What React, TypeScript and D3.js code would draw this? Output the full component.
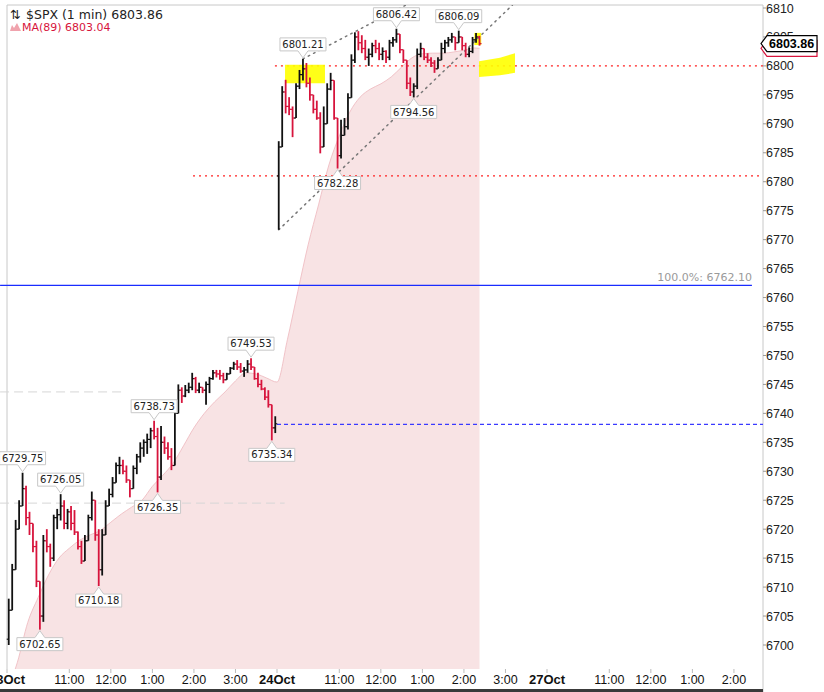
import * as d3 from 'd3';

// 5-minute OHLC bars (open = previous close)
const dayOpen = [6701, 6781];

const oct23Hi = [6708, 6714, 6721.6, 6725, 6729.75, 6727.5, 6723, 6721, 6718, 6711,
  6719, 6720, 6717.5, 6722.5, 6723.5, 6726.05, 6725, 6723.5, 6724, 6723.3,
  6719.6, 6718, 6719, 6722.5, 6726.5, 6725, 6720, 6720, 6725, 6727,
  6729, 6731.5, 6732.5, 6732, 6731, 6728.5, 6731, 6733, 6735, 6735.5,
  6736.5, 6737.5, 6738.73, 6737.5, 6737.8, 6736, 6735, 6734, 6741, 6745,
  6744.5, 6744.9, 6745.3, 6747, 6746.3, 6745.3, 6744.5, 6745.5, 6746.3, 6747.5,
  6747.5, 6747.5, 6747, 6747, 6748, 6748.9, 6749.2, 6748.7, 6748, 6749.2,
  6749.53, 6748, 6747, 6745.8, 6744.5, 6744, 6741.5, 6739.5];
const oct23Lo = [6700, 6706, 6713, 6720, 6724, 6720.7, 6719, 6716, 6710, 6702.65,
  6704, 6716, 6713.5, 6714.5, 6720, 6721.5, 6720, 6720, 6719.8, 6719,
  6716.5, 6714, 6714.5, 6718, 6721.5, 6718, 6710.18, 6712, 6719, 6724,
  6725.5, 6728, 6729.5, 6729.5, 6728, 6725.5, 6727, 6729.5, 6731.5, 6732.5,
  6733, 6734, 6735.5, 6726.35, 6728.5, 6733, 6732, 6730.2, 6731, 6740,
  6741.8, 6742.8, 6743.5, 6744, 6743.5, 6743.5, 6743.5, 6741.5, 6743.5, 6745.8,
  6746.2, 6745.8, 6745.2, 6745.8, 6747, 6747.5, 6747.5, 6747, 6746.3, 6747,
  6747.5, 6745.8, 6744.5, 6744, 6742.3, 6741, 6735.34, 6736.6];
const oct23Cl = [6706, 6713, 6720, 6724, 6727, 6722, 6721, 6717, 6711, 6705,
  6718, 6717, 6715, 6722, 6722.5, 6724, 6721, 6723, 6721, 6719.5,
  6717, 6714.5, 6718, 6722, 6725, 6719, 6713, 6719, 6724, 6726,
  6728, 6731, 6731, 6730, 6728.5, 6727, 6730.5, 6732.5, 6734, 6735,
  6735.5, 6737, 6736, 6729, 6735, 6734, 6732.5, 6731, 6740, 6744,
  6743, 6744, 6744.5, 6746, 6744, 6744.5, 6744, 6745, 6746, 6747,
  6746.8, 6746.5, 6745.8, 6746.8, 6747.8, 6748.5, 6748, 6747.3, 6747.5, 6748.5,
  6748, 6746, 6745, 6744.2, 6742.8, 6741.5, 6737.5, 6738.2];

const oct24Hi = [6787, 6796.5, 6797.6, 6794.6, 6793, 6797, 6799.3, 6801.21, 6800.5, 6798,
  6795, 6794, 6792, 6793, 6797, 6798.8, 6797.5, 6791, 6790.7, 6791,
  6795.3, 6802, 6805.8, 6806, 6805.3, 6804.5, 6803, 6804, 6804.5, 6804,
  6803.2, 6802.7, 6804.5, 6805, 6806.42, 6805, 6802.2, 6801, 6798, 6797,
  6803, 6804, 6802.7, 6802.2, 6801.5, 6801, 6801.5, 6804, 6804.5, 6805,
  6805.7, 6805, 6806.09, 6805, 6804, 6803.2, 6805, 6805.7, 6805.2];
const oct24Lo = [6771.7, 6787, 6791.8, 6791.5, 6787.7, 6791, 6796, 6797.5, 6796.3, 6794,
  6791.8, 6790.7, 6784.9, 6786, 6790, 6795.8, 6790.7, 6782.28, 6784, 6788.3,
  6789, 6794.5, 6800.5, 6802.7, 6802.2, 6801, 6800, 6801.5, 6802.2, 6801,
  6801, 6800.5, 6801, 6803.3, 6804, 6802.2, 6800.5, 6796, 6794.8, 6794.56,
  6796, 6801.5, 6801, 6800.5, 6799.8, 6798.8, 6799.8, 6801.5, 6802.2, 6803.3,
  6804, 6802.7, 6804, 6802.7, 6801.5, 6801.5, 6802.2, 6804, 6803.5];
const oct24Cl = [6786, 6795.5, 6793, 6792.5, 6791, 6796.5, 6798.5, 6799.5, 6797, 6795,
  6792.5, 6791, 6786, 6790, 6796, 6797.5, 6791, 6784.5, 6788, 6789.5,
  6794.5, 6801, 6805, 6804, 6803, 6801.5, 6802, 6803.5, 6803, 6802,
  6802.5, 6801.5, 6804, 6804.5, 6805.5, 6802.8, 6801, 6797, 6795.5, 6796.5,
  6802, 6803, 6801.5, 6801, 6800.5, 6799.5, 6801, 6803, 6804, 6804.5,
  6805, 6804, 6805, 6803.5, 6802, 6802.5, 6804.5, 6805, 6803.86];

// MA(89), sampled every 15 minutes from the open of each session
const ma23 = [6692, 6697, 6703.9, 6708.2, 6712.1, 6715, 6716.7, 6718.1, 6719, 6719.8,
  6721.2, 6722.6, 6723.8, 6725, 6727.4, 6729.3, 6731.4, 6734.4, 6737.5, 6740,
  6742, 6743.7, 6745.6, 6747, 6746.8, 6746.1];
const ma24 = [6745.4, 6752.7, 6761, 6769.1, 6776, 6782.9, 6787.9, 6792, 6794.6, 6796,
  6796.9, 6798.1, 6799.8, 6801.4, 6802.1, 6802.2, 6802.2, 6802.4, 6802.7, 6803.1];
const maLast = 6803.04;
const lastPrice = 6803.86;

// session minutes (each session 390 min, 9:30 - 16:00)
const SESSION = 390;
const BAR = 5;

const xTickMinutes = [0, 90, 150, 210, 270, 330, 390, 480, 540, 600, 660, 720, 780, 870, 930, 990, 1050];
const xTickLabels = ['23Oct', '11:00', '12:00', '1:00', '2:00', '3:00', '24Oct', '11:00', '12:00', '1:00', '2:00', '3:00', '27Oct', '11:00', '12:00', '1:00', '2:00'];
const yTicks = [6700, 6705, 6710, 6715, 6720, 6725, 6730, 6735, 6740, 6745, 6750, 6755,
  6760, 6765, 6770, 6775, 6780, 6785, 6790, 6795, 6800, 6805, 6810];

// annotated swing points: [session, bar, value, side]
const swings: [number, number, number, 'hi' | 'lo'][] = [
  [0, 4, 6729.75, 'hi'], [0, 9, 6702.65, 'lo'], [0, 15, 6726.05, 'hi'], [0, 26, 6710.18, 'lo'],
  [0, 42, 6738.73, 'hi'], [0, 43, 6726.35, 'lo'], [0, 70, 6749.53, 'hi'], [0, 76, 6735.34, 'lo'],
  [1, 7, 6801.21, 'hi'], [1, 17, 6782.28, 'lo'], [1, 34, 6806.42, 'hi'], [1, 39, 6794.56, 'lo'],
  [1, 52, 6806.09, 'hi'],
];

// drawn studies: [minute, price]
const upperTrend: [number, number][] = [[427.5, 6801.21], [584, 6811]];
const lowerTrend: [number, number][] = [[392.5, 6771.7], [730, 6810.5]];
const yellowBox: [number, number][] = [[401.6, 6800.2], [459.3, 6800.2], [459.3, 6797], [401.6, 6797]];
const yellowWedge: [number, number][] = [[681.8, 6800.8], [712.1, 6801.4], [733.8, 6802.2], [733.8, 6798.8], [712.1, 6798.4], [681.8, 6798.1]];
const yellowTip: [number, number][] = [[675, 6805.7], [685, 6805.7], [685, 6803.6], [675, 6803.6]];
// horizontal levels: [price, fromMinute, toMinute]
const fibLevel: [number, number, number] = [6762.10, -10, 1076];
const closeLevel: [number, number, number] = [6738.1, 390, 1090];
const redLevels: [number, number, number][] = [[6800, 387, 1090], [6781, 268.7, 1090]];
const greyLevels: [number, number, number][] = [[6743.7, -10, 170], [6724.5, -10, 401]];

const W = 824, H = 692;
const PL = 7, PR = 763, PT = 5, PB = 669;

const x = d3.scaleLinear().domain([0, 3 * SESSION]).range([7, 817]);
const y = d3.scaleLinear().domain([6700, 6810]).range([645, 8]);

const RED = '#d7143c';
const UI = 'Liberation Sans, Arial, sans-serif';
const VF = 'DejaVu Sans, Verdana, sans-serif';

type Bar = { t: number; o: number; h: number; l: number; c: number };

function buildBars(session: number, hi: number[], lo: number[], cl: number[]): Bar[] {
  return cl.map((c, i) => {
    const o = i === 0 ? dayOpen[session] : cl[i - 1];
    return {
      t: session * SESSION + i * BAR + BAR / 2,
      o, c,
      h: d3.max([hi[i], o, c]) as number,
      l: d3.min([lo[i], o, c]) as number,
    };
  });
}

const bars = [
  ...buildBars(0, oct23Hi, oct23Lo, oct23Cl),
  ...buildBars(1, oct24Hi, oct24Lo, oct24Cl),
];

const maPts: [number, number][] = [
  ...ma23.map((v, i) => [i * 15, v] as [number, number]),
  ...ma24.map((v, i) => [SESSION + i * 15, v] as [number, number]),
  [bars[bars.length - 1].t, maLast],
];

const maArea = d3.area<[number, number]>()
  .x(d => x(d[0])).y0(PB).y1(d => y(d[1])).curve(d3.curveMonotoneX);
const maLine = d3.line<[number, number]>()
  .x(d => x(d[0])).y(d => y(d[1])).curve(d3.curveMonotoneX);
const poly = d3.line<[number, number]>().x(d => x(d[0])).y(d => y(d[1]));

function px(p: [number, number][]) {
  // pixel endpoints of a trend line
  return { x1: x(p[0][0]), y1: y(p[0][1]), x2: x(p[1][0]), y2: y(p[1][1]) };
}

function Callout({ s }: { s: [number, number, number, 'hi' | 'lo'] }) {
  const [session, i, v, side] = s;
  const cx = x(session * SESSION + i * BAR + BAR / 2);
  const py = y(v);
  const w = 46, h = 13;
  let d: string, ty: number;
  if (side === 'hi') {
    const yb = py - 8;
    d = `M${cx - w / 2},${yb - h}H${cx + w / 2}V${yb}H${cx + 5}L${cx},${py - 1}L${cx - 5},${yb}H${cx - w / 2}Z`;
    ty = yb - h / 2;
  } else {
    const yt = py + 8;
    d = `M${cx - w / 2},${yt}H${cx - 5}L${cx},${py + 1}L${cx + 5},${yt}H${cx + w / 2}V${yt + h}H${cx - w / 2}Z`;
    ty = yt + h / 2;
  }
  return (
    <g>
      <path d={d} fill="#fff" stroke="#c8c8c8" strokeWidth={1} />
      <text x={cx} y={ty} dy="0.36em" textAnchor="middle" fontFamily={VF} fontSize={10} fill="#222">
        {v.toFixed(2)}
      </text>
    </g>
  );
}

function tagPath(v: number) {
  const cy = y(v);
  return `M${PR - 2},${cy}L${PR + 4},${cy - 8}H${817}V${cy + 8}H${PR + 4}Z`;
}

export default function App() {
  const up = px(upperTrend);
  const lo = px(lowerTrend);
  return (
    <svg width={W} height={H} style={{ position: 'absolute', left: 0, top: 0, display: 'block', background: '#fff' }}>
      <defs>
        <clipPath id="plot">
          <rect x={PL} y={PT} width={PR - PL} height={PB - PT} />
        </clipPath>
      </defs>

      {/* frame */}
      <line x1={PL} x2={PR} y1={PT} y2={PT} stroke="#c8c8c8" />
      <line x1={PL} x2={PL} y1={PT} y2={PB} stroke="#c8c8c8" />
      <line x1={PR} x2={PR} y1={PT} y2={H} stroke="#c8c8c8" />

      {/* MA(89) area */}
      <g clipPath="url(#plot)">
        <path d={maArea(maPts) ?? ''} fill="#f8e3e4" />
        <path d={maLine(maPts) ?? ''} fill="none" stroke="#f1c3c8" strokeWidth={1} />
      </g>

      {/* horizontal levels */}
      {greyLevels.map(([p, a, b], k) => (
        <line key={'g' + k} x1={x(a)} x2={x(b)} y1={y(p)} y2={y(p)} stroke="#d6d6d6" strokeWidth={1} strokeDasharray="9,5" />
      ))}
      <line x1={x(fibLevel[1])} x2={x(fibLevel[2])} y1={y(fibLevel[0])} y2={y(fibLevel[0])} stroke="#1a2cff" strokeWidth={1.2} />
      <text x={x(fibLevel[2])} y={y(fibLevel[0]) - 4} textAnchor="end" fontFamily={VF} fontSize={11} fill="#9a9a9a">
        {`100.0%: ${fibLevel[0].toFixed(2)}`}
      </text>
      <line x1={x(closeLevel[1])} x2={PR} y1={y(closeLevel[0])} y2={y(closeLevel[0])} stroke="#3a3aff" strokeWidth={1.2} strokeDasharray="4,3" />
      {redLevels.map(([p, a], k) => (
        <line key={'r' + k} x1={x(a)} x2={PR} y1={y(p)} y2={y(p)} stroke="#ff2020" strokeWidth={1.3} strokeDasharray="2,4" />
      ))}

      {/* yellow highlights */}
      <g fill="#ffff00" opacity={0.9}>
        <path d={(poly(yellowBox) ?? '') + 'Z'} />
        <path d={(poly(yellowWedge) ?? '') + 'Z'} />
        <path d={(poly(yellowTip) ?? '') + 'Z'} />
      </g>

      {/* trend lines */}
      <g clipPath="url(#plot)" stroke="#777" strokeWidth={1.5} strokeDasharray="1.5,4.5" strokeLinecap="round">
        <line x1={up.x1} y1={up.y1} x2={up.x2} y2={up.y2} />
        <line x1={lo.x1} y1={lo.y1} x2={lo.x2} y2={lo.y2} />
      </g>

      {/* OHLC bars */}
      <g strokeWidth={1.8}>
        {bars.map((b, k) => {
          const cx = x(b.t);
          const col = b.c >= b.o ? '#111' : RED;
          return (
            <g key={k} stroke={col}>
              <line x1={cx} x2={cx} y1={y(b.h)} y2={y(b.l)} />
              <line x1={cx - 2} x2={cx} y1={y(b.o)} y2={y(b.o)} strokeWidth={1.2} />
              <line x1={cx} x2={cx + 2} y1={y(b.c)} y2={y(b.c)} strokeWidth={1.2} />
            </g>
          );
        })}
      </g>

      {/* swing callouts */}
      {swings.map((s, k) => <Callout key={k} s={s} />)}

      {/* right axis */}
      {yTicks.map(t => (
        <g key={t}>
          <line x1={PR} x2={PR + 3} y1={y(t)} y2={y(t)} stroke="#999" />
          <text x={PR + 3} y={y(t)} dy="0.36em" fontFamily={UI} fontSize={12.5} fill="#222">{t}</text>
        </g>
      ))}
      {/* MA tag sits under the last-price tag */}
      <path d={tagPath(maLast)} fill="#fff" stroke={RED} strokeWidth={1.2} />
      <path d={tagPath(lastPrice)} fill="#fff" stroke="#000" strokeWidth={1.2} />
      <text x={PR + 6} y={y(lastPrice)} dy="0.36em" fontFamily={UI} fontSize={12.5} fontWeight="bold" fill="#000">
        {lastPrice.toFixed(2)}
      </text>

      {/* bottom axis */}
      {xTickMinutes.map((m, k) => {
        const bold = xTickLabels[k].includes('Oct');
        return (
          <g key={k}>
            <line x1={x(m)} x2={x(m)} y1={PB} y2={PB + 4} stroke="#bbb" />
            <text x={x(m)} y={684} textAnchor="middle" fontFamily={UI} fontSize={bold ? 13 : 12.5}
              fontWeight={bold ? 'bold' : 'normal'} fill="#111">{xTickLabels[k]}</text>
          </g>
        );
      })}
      <rect x={0} y={689} width={PR} height={3} fill="#3a3a3a" />

      {/* legend */}
      <text x={10} y={19} fontFamily={VF} fontSize={12.5} fill="#222">⇅</text>
      <text x={26} y={19} fontFamily={VF} fontSize={12.5} fill="#222">{`$SPX (1 min) ${lastPrice.toFixed(2)}`}</text>
      <path d="M10,31L12,25L14,28L17,23L20,29L21,31Z" fill="#f0a3ad" />
      <text x={22} y={31} fontFamily={VF} fontSize={11} fill={RED}>{`MA(89) ${maLast.toFixed(2)}`}</text>
    </svg>
  );
}
